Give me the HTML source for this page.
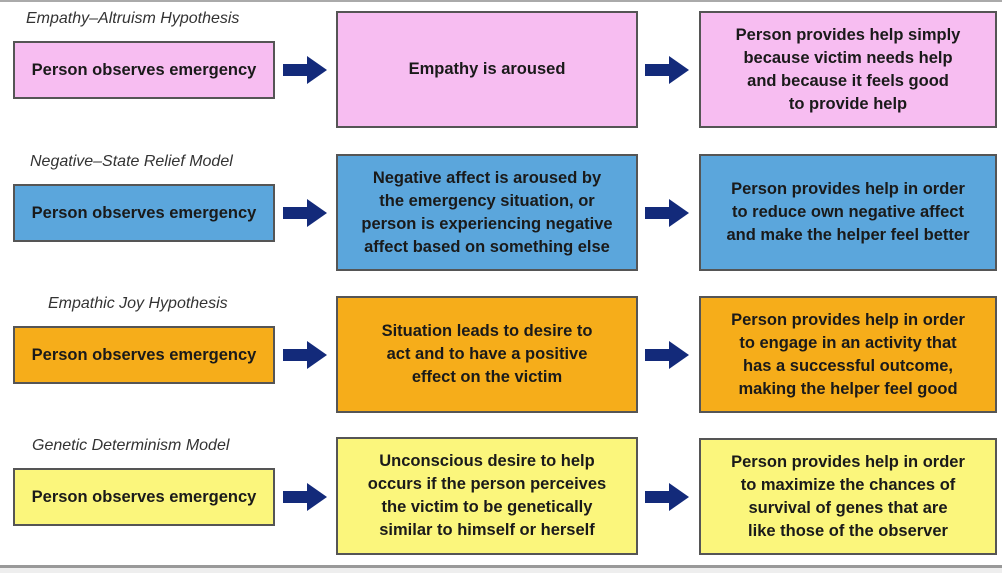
<!DOCTYPE html>
<html><head><style>
body{margin:0;width:1002px;height:573px;background:#fff;position:relative;overflow:hidden;font-family:"Liberation Sans",sans-serif;}
.b{position:absolute;box-sizing:border-box;border:2px solid #555;display:flex;align-items:center;justify-content:center;text-align:center;font-size:16.5px;line-height:23px;color:#1a1a1a;font-weight:bold;}
.t{position:absolute;font-style:italic;font-size:16px;color:#333;left:26px;}
.p{background:#f7bdf1}.bl{background:#5ba6dc}.o{background:#f6ad1a}.y{background:#fbf67c}
.a{position:absolute;left:283px;width:46px;height:28px}
.a2{left:645px}
</style></head><body>
<div style="position:absolute;left:0;top:0;width:1002px;height:2px;background:#aaa"></div>
<div style="position:absolute;left:0;top:565px;width:1002px;height:3px;background:#999"></div>
<div style="position:absolute;left:0;top:568px;width:1002px;height:5px;background:#eee"></div>

<div class="t" style="top:10px">Empathy–Altruism Hypothesis</div>
<div class="b p" style="left:13px;top:41px;width:262px;height:58px">Person observes emergency</div>
<div class="b p" style="left:336px;top:11px;width:302px;height:117px">Empathy is aroused</div>
<div class="b p" style="left:699px;top:11px;width:298px;height:117px">Person provides help simply<br>because victim needs help<br>and because it feels good<br>to provide help</div>

<div class="t" style="top:153px;left:30px">Negative–State Relief Model</div>
<div class="b bl" style="left:13px;top:184px;width:262px;height:58px">Person observes emergency</div>
<div class="b bl" style="left:336px;top:154px;width:302px;height:117px">Negative affect is aroused by<br>the emergency situation, or<br>person is experiencing negative<br>affect based on something else</div>
<div class="b bl" style="left:699px;top:154px;width:298px;height:117px">Person provides help in order<br>to reduce own negative affect<br>and make the helper feel better</div>

<div class="t" style="top:295px;left:48px">Empathic Joy Hypothesis</div>
<div class="b o" style="left:13px;top:326px;width:262px;height:58px">Person observes emergency</div>
<div class="b o" style="left:336px;top:296px;width:302px;height:117px">Situation leads to desire to<br>act and to have a positive<br>effect on the victim</div>
<div class="b o" style="left:699px;top:296px;width:298px;height:117px">Person provides help in order<br>to engage in an activity that<br>has a successful outcome,<br>making the helper feel good</div>

<div class="t" style="top:437px;left:32px">Genetic Determinism Model</div>
<div class="b y" style="left:13px;top:468px;width:262px;height:58px">Person observes emergency</div>
<div class="b y" style="left:336px;top:437px;width:302px;height:118px">Unconscious desire to help<br>occurs if the person perceives<br>the victim to be genetically<br>similar to himself or herself</div>
<div class="b y" style="left:699px;top:438px;width:298px;height:117px">Person provides help in order<br>to maximize the chances of<br>survival of genes that are<br>like those of the observer</div>

<svg class="a" style="top:56px" viewBox="0 0 46 28"><polygon points="0,8 24,8 24,0 44,14 24,28 24,20 0,20" fill="#132a7a"/></svg>
<svg class="a a2" style="top:56px" viewBox="0 0 46 28"><polygon points="0,8 24,8 24,0 44,14 24,28 24,20 0,20" fill="#132a7a"/></svg>
<svg class="a" style="top:199px" viewBox="0 0 46 28"><polygon points="0,8 24,8 24,0 44,14 24,28 24,20 0,20" fill="#132a7a"/></svg>
<svg class="a a2" style="top:199px" viewBox="0 0 46 28"><polygon points="0,8 24,8 24,0 44,14 24,28 24,20 0,20" fill="#132a7a"/></svg>
<svg class="a" style="top:341px" viewBox="0 0 46 28"><polygon points="0,8 24,8 24,0 44,14 24,28 24,20 0,20" fill="#132a7a"/></svg>
<svg class="a a2" style="top:341px" viewBox="0 0 46 28"><polygon points="0,8 24,8 24,0 44,14 24,28 24,20 0,20" fill="#132a7a"/></svg>
<svg class="a" style="top:483px" viewBox="0 0 46 28"><polygon points="0,8 24,8 24,0 44,14 24,28 24,20 0,20" fill="#132a7a"/></svg>
<svg class="a a2" style="top:483px" viewBox="0 0 46 28"><polygon points="0,8 24,8 24,0 44,14 24,28 24,20 0,20" fill="#132a7a"/></svg>
</body></html>
